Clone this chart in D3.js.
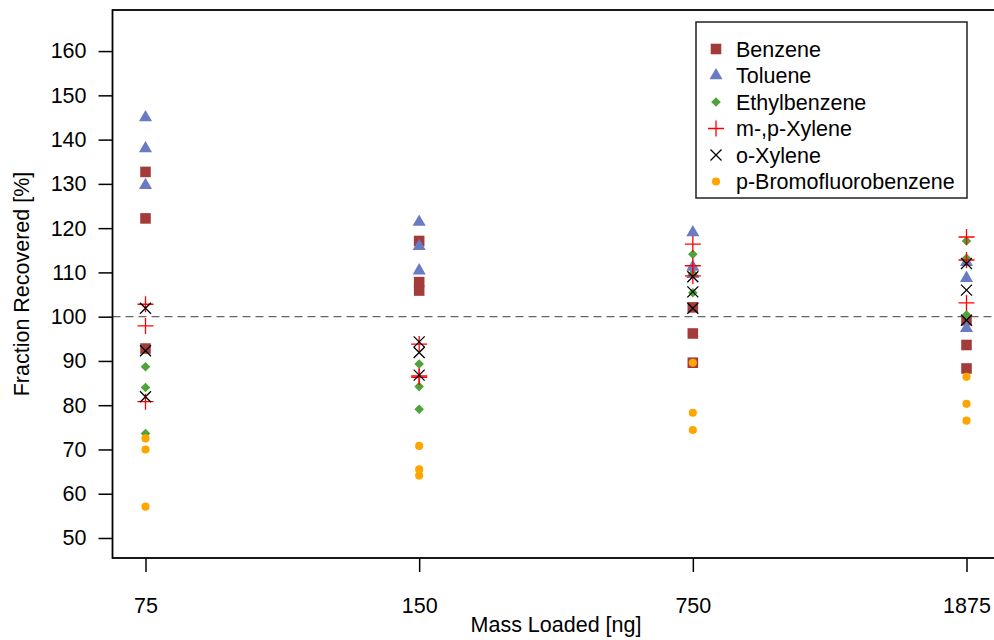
<!DOCTYPE html>
<html>
<head>
<meta charset="utf-8">
<script src="https://cdn.jsdelivr.net/npm/d3@7"></script>
<style>
  body { margin: 0; background: #fff; }
  svg text { font-family: "Liberation Sans", Arial, sans-serif; fill: #000; }
</style>
</head>
<body>
<div id="chart"></div>
<script>
// mass loaded categories (x axis)
var masses = ["75", "150", "750", "1875"];
var yTicks = [50, 60, 70, 80, 90, 100, 110, 120, 130, 140, 150, 160];

// fraction recovered [%], three replicates per mass
var benzene      = [[132.7, 122.2, 92.8], [117.1, 107.8, 105.9], [102.1, 96.2, 89.6], [99.2, 93.6, 88.3]];
var toluene      = [[145.0, 138.0, 129.7], [121.4, 115.9, 110.4], [119.0, 111.2, 109.6], [112.3, 108.7, 97.4]];
var ethylbenzene = [[88.7, 84.0, 73.6], [89.3, 84.2, 79.1], [114.1, 109.6, 105.4], [117.1, 113.2, 100.4]];
var mpXylene     = [[102.8, 97.9, 80.8], [93.8, 86.6, 86.3], [116.4, 111.5, 109.2], [118.0, 112.8, 103.1]];
var oXylene      = [[101.9, 92.3, 81.9], [94.3, 91.9, 86.8], [109.0, 105.6, 101.9], [112.0, 106.0, 99.2]];
var bfb          = [[72.5, 70.0, 57.1], [70.8, 65.5, 64.1], [89.6, 78.3, 74.4], [86.4, 80.3, 76.5]];

var seriesNames = ["Benzene", "Toluene", "Ethylbenzene", "m-,p-Xylene", "o-Xylene", "p-Bromofluorobenzene"];
var seriesData = [benzene, toluene, ethylbenzene, mpXylene, oXylene, bfb];
var seriesColor = ["#a33b3b", "#6a7bc4", "#4ea33b", "#ff0000", "#000000", "#ffa500"];
var seriesShape = ["square", "triangle", "diamond", "plus", "cross", "dot"];

var W = 994, H = 640;
var plot = {left: 112.5, right: 1000, top: 10, bottom: 558};

var svg = d3.select("#chart").append("svg")
    .attr("width", W)
    .attr("height", H);

var x = d3.scalePoint().domain(masses).range([145.5, 966.5]);
var y = d3.scaleLinear().domain([45.48, 169.28]).range([plot.bottom, plot.top]);

function shapePath(s) {
  switch (s) {
    case "square": return d3.symbol(d3.symbolSquare, 112)();
    case "triangle": return d3.symbol(d3.symbolTriangle, 74)();
    case "diamond": return "M0,-4.8L4.8,0L0,4.8L-4.8,0Z";
    case "dot": return d3.symbol(d3.symbolCircle, 52)();
    case "plus": return "M-8,0H8M0,-8V8";
    case "cross": return "M-5.5,-5.5L5.5,5.5M-5.5,5.5L5.5,-5.5";
  }
}
function styleMark(sel, i) {
  var line = seriesShape[i] == "plus" || seriesShape[i] == "cross";
  sel.attr("d", shapePath(seriesShape[i]))
    .attr("fill", line ? "none" : seriesColor[i])
    .attr("stroke", line ? seriesColor[i] : "none")
    .attr("stroke-width", line ? 1.3 : 0);
}

// reference line at 100 %
svg.append("line")
  .attr("x1", plot.left).attr("x2", W)
  .attr("y1", y(100)).attr("y2", y(100))
  .attr("stroke", "#666").attr("stroke-width", 1.2)
  .attr("stroke-dasharray", "8,5");

// points
seriesData.forEach(function(ser, i) {
  var pts = [];
  ser.forEach(function(vals, j) {
    vals.forEach(function(v) { pts.push({m: masses[j], v: v}); });
  });
  svg.append("g").selectAll("path")
    .data(pts)
    .enter().append("path")
    .attr("transform", function(d) { return "translate(" + x(d.m) + "," + y(d.v) + ")"; })
    .call(styleMark, i);
});

// box
svg.append("rect")
  .attr("x", plot.left).attr("y", plot.top)
  .attr("width", plot.right - plot.left).attr("height", plot.bottom - plot.top)
  .attr("fill", "none").attr("stroke", "#000").attr("stroke-width", 1.8);

// axes
var yAxis = svg.append("g")
  .attr("transform", "translate(" + plot.left + ",0)")
  .call(d3.axisLeft(y).tickValues(yTicks).tickSize(14).tickPadding(12));
var xAxis = svg.append("g")
  .attr("transform", "translate(0," + plot.bottom + ")")
  .call(d3.axisBottom(x).tickSize(14).tickPadding(26));
[yAxis, xAxis].forEach(function(a) {
  a.select(".domain").remove();
  a.selectAll("line").attr("stroke", "#000").attr("stroke-width", 1.5);
  a.selectAll("text").style("font-size", "21.5px").attr("fill", "#000");
});

svg.append("text")
  .attr("x", (145.5 + 966.5) / 2).attr("y", 632)
  .attr("text-anchor", "middle")
  .style("font-size", "21.5px")
  .text("Mass Loaded [ng]");

svg.append("text")
  .attr("transform", "translate(29," + (plot.top + plot.bottom) / 2 + ") rotate(-90)")
  .attr("text-anchor", "middle")
  .style("font-size", "21.5px")
  .text("Fraction Recovered [%]");

// legend
var legend = svg.append("g").attr("class", "legend");
legend.append("rect")
  .attr("x", 696).attr("y", 22)
  .attr("width", 271).attr("height", 176)
  .attr("fill", "#fff").attr("stroke", "#222").attr("stroke-width", 1.5);
var item = legend.selectAll(".item")
  .data(seriesNames)
  .enter().append("g")
  .attr("class", "item")
  .attr("transform", function(d, i) { return "translate(716," + (49 + i * 26.5) + ")"; });
item.append("path").each(function(d, i) { d3.select(this).call(styleMark, i); });
item.append("text")
  .attr("x", 20)
  .attr("dy", "0.35em")
  .style("font-size", "21.5px")
  .text(function(d) { return d; });
</script>
</body>
</html>
